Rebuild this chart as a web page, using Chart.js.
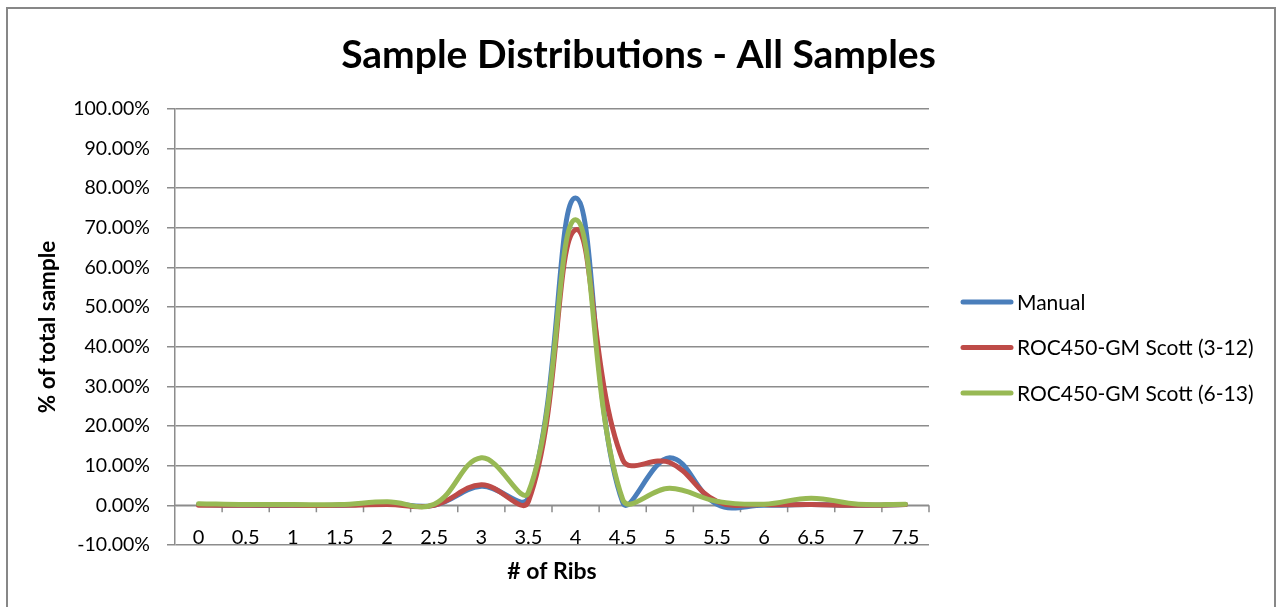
<!DOCTYPE html>
<html>
<head>
<meta charset="utf-8">
<script src="https://cdn.jsdelivr.net/npm/chart.js@4/dist/chart.umd.min.js"></script>
<style>
  html, body { margin: 0; padding: 0; background: #fff; overflow: hidden; }
  #wrap { position: relative; width: 1277px; height: 607px; }
  #frame { position: absolute; left: 6px; top: 7px; width: 1270px; height: 640px;
           border: 2px solid #878787; box-sizing: border-box; pointer-events: none; }
</style>
</head>
<body>
<div id="wrap">
  <canvas id="chart" width="1277" height="607"></canvas>
  <div id="frame"></div>
</div>
<script>
const ribCounts = ['0', '0.5', '1', '1.5', '2', '2.5', '3', '3.5', '4', '4.5', '5', '5.5', '6', '6.5', '7', '7.5']
const manual = [0.2, 0, 0, 0, 0.5, 0, 4.8, 2, 77.5, 0.8, 12, 0.3, 0, 0.2, 0, 0.2]
const roc312 = [0, 0, 0, 0, 0.2, 0, 5.2, 1, 69.5, 11.5, 10.8, 1, 0.2, 0.2, 0, 0.2]
const roc613 = [0.4, 0.2, 0.2, 0.2, 0.9, 0.3, 12, 3.3, 72, 1.5, 4.3, 1, 0.3, 1.8, 0.3, 0.3]

const FONT = 'Lato, "Open Sans", sans-serif'
const GRID = '#8c8c8c'

// zero line plus tick marks between categories (Excel style)
const zeroTicks = {
  id: 'zeroTicks',
  beforeDatasetsDraw(chart) {
    const x = chart.scales.x
    const y = chart.scales.y
    const ctx = chart.ctx
    const step = x.getPixelForValue(1) - x.getPixelForValue(0)
    const y0 = y.getPixelForValue(0)
    ctx.save()
    ctx.strokeStyle = GRID
    ctx.lineWidth = 1.5
    ctx.beginPath()
    ctx.moveTo(chart.chartArea.left, y0)
    ctx.lineTo(chart.chartArea.right, y0)
    for (let i = 1; i <= ribCounts.length; i++) {
      const px = x.getPixelForValue(i) - step / 2
      ctx.moveTo(px, y0)
      ctx.lineTo(px, y0 + 7)
    }
    ctx.stroke()
    ctx.restore()
  },
}

// right-hand legend drawn as thick line swatches
const sideLegend = {
  id: 'sideLegend',
  afterDraw(chart) {
    const ctx = chart.ctx
    const left = chart.chartArea.right + 34
    const top = 302
    const gap = 45.5
    ctx.save()
    ctx.font = '21px ' + FONT
    ctx.textBaseline = 'middle'
    ctx.lineCap = 'round'
    chart.data.datasets.forEach((ds, i) => {
      const yy = top + i * gap
      ctx.strokeStyle = ds.borderColor
      ctx.lineWidth = 5
      ctx.beginPath()
      ctx.moveTo(left, yy)
      ctx.lineTo(left + 48, yy)
      ctx.stroke()
      ctx.fillStyle = '#000'
      ctx.fillText(ds.label, left + 54, yy + 1)
    })
    ctx.restore()
  },
}

const ctx = document.getElementById('chart').getContext('2d')
new Chart(ctx, {
  type: 'line',
  data: {
    labels: ribCounts,
    datasets: [
      { label: 'Manual', data: manual, borderColor: '#4a7ebb', order: 2 },
      { label: 'ROC450-GM Scott (3-12)', data: roc312, borderColor: '#be4b48', order: 1 },
      { label: 'ROC450-GM Scott (6-13)', data: roc613, borderColor: '#98b954', order: 0 },
    ],
  },
  options: {
    responsive: false,
    animation: false,
    devicePixelRatio: 1,
    layout: { padding: 0 },
    elements: {
      line: { borderWidth: 5, tension: 0.4, capBezierPoints: false, borderCapStyle: 'round' },
      point: { radius: 0 },
    },
    plugins: {
      legend: { display: false },
      tooltip: { enabled: false },
      title: {
        display: true,
        text: 'Sample Distributions - All Samples',
        color: '#000',
        font: { family: FONT, size: 39, weight: 'bold' },
        padding: { top: 32, bottom: 30 },
      },
    },
    scales: {
      x: {
        offset: true,
        grid: { display: false, drawTicks: false },
        border: { display: false },
        ticks: {
          color: '#000',
          font: { family: FONT, size: 20 },
          mirror: true,
          padding: -5,
          maxRotation: 0,
          autoSkip: false,
        },
        title: {
          display: true,
          text: '# of Ribs',
          color: '#000',
          font: { family: FONT, size: 23, weight: 'bold' },
          padding: { top: 0, bottom: 22 },
        },
        afterFit(scale) { scale.height = 62 },
      },
      y: {
        min: -10,
        max: 100,
        grid: { color: GRID, lineWidth: 1.5, drawTicks: true, tickLength: 8, tickColor: GRID },
        border: { display: true, color: GRID, width: 1.5 },
        ticks: {
          stepSize: 10,
          color: '#000',
          font: { family: FONT, size: 19.5 },
          padding: 17,
          callback: (v) => v.toFixed(2) + '%',
        },
        title: {
          display: true,
          text: '% of total sample',
          color: '#000',
          font: { family: FONT, size: 22.5, weight: 'bold' },
          padding: { top: 34.5, bottom: 0 },
        },
        afterFit(scale) { scale.width = 175 },
      },
      // empty right-hand box that leaves room for the legend
      side: {
        type: 'linear',
        position: 'right',
        display: true,
        grid: { display: false, drawTicks: false },
        border: { display: false },
        ticks: { display: false },
        afterFit(scale) { scale.width = 348 },
      },
    },
  },
  plugins: [zeroTicks, sideLegend],
})
</script>
</body>
</html>
